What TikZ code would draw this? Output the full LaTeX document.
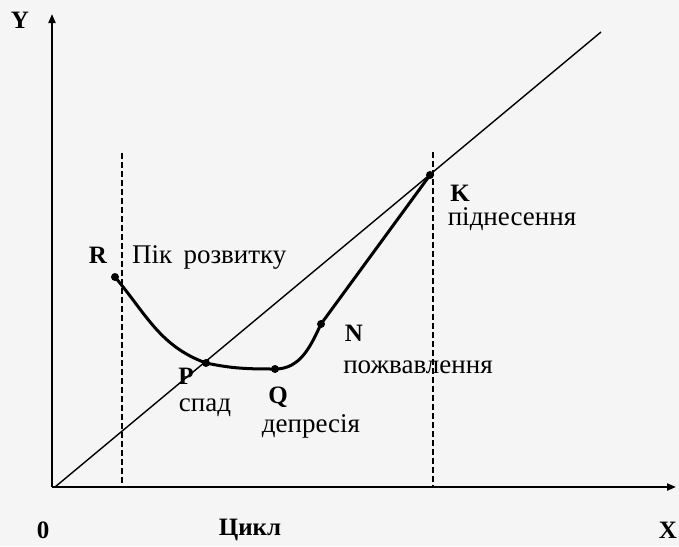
\documentclass[tikz,border=0pt]{standalone}
\usepackage{fontspec}
\setmainfont{Liberation Serif}
\usetikzlibrary{arrows.meta}
\begin{document}
\begin{tikzpicture}[x=1pt,y=-1pt,
  axis/.style={line width=2pt,-{Triangle[length=9pt,width=7pt]}},
  diag/.style={line width=1.4pt},
  cycle/.style={line width=3pt},
  guide/.style={line width=1.6pt,dash pattern=on 6pt off 3pt},
  dot/.style={circle,fill=black,inner sep=0pt,minimum size=8pt},
  lbl/.style={font=\fontsize{27}{30}\selectfont,inner sep=0pt},
  blbl/.style={font=\fontsize{25}{28}\selectfont\bfseries,inner sep=0pt}]
\fill[black!4] (0,0) rectangle (679,546);
\useasboundingbox (0,0) rectangle (679,546);
% points
\coordinate (O) at (52,487);
\coordinate (Ytop) at (52,14);
\coordinate (Xend) at (676,487);
\coordinate (Dstart) at (55,487);
\coordinate (Dend) at (601,32);
\coordinate (L1) at (122,153);
\coordinate (L0) at (122,487);
\coordinate (R1) at (433,152);
\coordinate (R0) at (433,487);
\coordinate (R) at (115,277);
\coordinate (P) at (206,363);
\coordinate (Q) at (275,369);
\coordinate (N) at (321,324);
\coordinate (K) at (430,175);
% guides
\draw[guide] (L1) -- (L0);
\draw[guide] (R1) -- (R0);
% axes
\draw[axis] (O) -- (Ytop);
\draw[axis] (O) -- (Xend);
% diagonal
\draw[diag] (Dstart) -- (Dend);
% cycle curve
\draw[cycle] (R) to[out=-50,in=160] (P) to[out=-12,in=180] (Q) to[out=0,in=-115] (N) -- (K);
\foreach \p in {R,P,Q,N,K} \node[dot] (d\p) at (\p) {};
% labels
\node[blbl] (tY) at (20,20) {Y};
\node[blbl] (tR) at (98,255) {R};
\node[lbl,anchor=west] (tpeak) at (132,257) {Пік\, розвитку};
\node[blbl] (tP) at (186,376) {P};
\node[lbl] (tspad) at (205,408) {спад};
\node[blbl] (tQ) at (278,397) {Q};
\node[lbl] (tdep) at (311,426) {депресія};
\node[blbl] (tN) at (354,333) {N};
\node[lbl] (tpozh) at (418,367) {пожвавлення};
\node[blbl] (tK) at (460,193) {K};
\node[lbl] (tpid) at (512,219) {піднесення};
\node[blbl] (t0) at (43,530) {0};
\node[blbl] (tc) at (250,530) {Цикл};
\node[blbl] (tX) at (668,530) {X};
\end{tikzpicture}
\end{document}
